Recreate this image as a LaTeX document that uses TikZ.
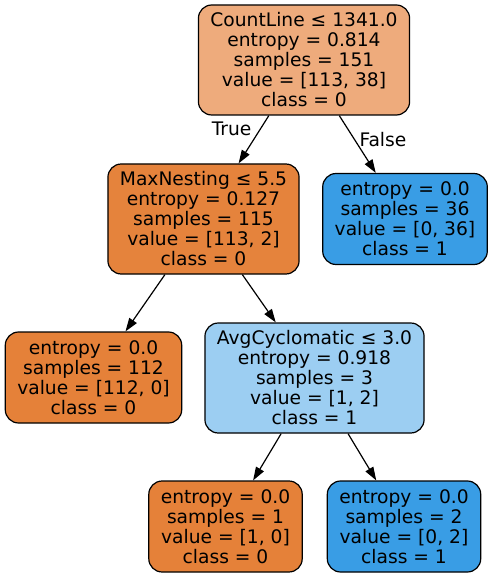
\documentclass[tikz,border=0pt]{standalone}
\usepackage{fontspec}
\setmainfont{DejaVu Sans}
\usetikzlibrary{arrows.meta}

\definecolor{rootorange}{RGB}{238,171,124}
\definecolor{darkorange}{RGB}{229,131,60}
\definecolor{leaforange}{RGB}{229,129,57}
\definecolor{leafblue}{RGB}{57,157,229}
\definecolor{lightblue}{RGB}{156,206,242}

\begin{document}
\begin{tikzpicture}[
    x=0.75pt, y=-0.75pt,
    every node/.style={font=\fontsize{14}{15}\selectfont},
    split/.style={rectangle, draw, line width=0.9pt, rounded corners=10pt, align=center, inner xsep=9pt, inner ysep=0pt, minimum height=82.5pt},
    leaf/.style={split, minimum height=68.25pt},
    arrow/.style={-{Triangle[length=10pt, width=6.7pt]}, line width=0.9pt},
    truefalse/.style={inner sep=0pt}
]
\useasboundingbox (0,0) rectangle (493,577);

% Root split
\node[split, fill=rootorange] (countline) at (304,60) {CountLine ≤ 1341.0\\entropy = 0.814\\samples = 151\\value = [113, 38]\\class = 0};

% Level 1
\node[split, fill=darkorange] (maxnesting) at (203.5,219) {MaxNesting ≤ 5.5\\entropy = 0.127\\samples = 115\\value = [113, 2]\\class = 0};
\node[leaf, fill=leafblue] (leaf36) at (405,219) {entropy = 0.0\\samples = 36\\value = [0, 36]\\class = 1};

\draw[arrow] (countline) -- node[truefalse, pos=0.27, left=6.5pt] {True} (maxnesting);
\draw[arrow] (countline) -- node[truefalse, pos=0.41, right=3.5pt] {False} (leaf36);

% Level 2
\node[leaf, fill=leaforange] (leaf112) at (93.5,377.5) {entropy = 0.0\\samples = 112\\value = [112, 0]\\class = 0};
\node[split, fill=lightblue] (avgcyclo) at (314.5,378) {AvgCyclomatic ≤ 3.0\\entropy = 0.918\\samples = 3\\value = [1, 2]\\class = 1};

\draw[arrow] (maxnesting) -- (leaf112);
\draw[arrow] (maxnesting) -- (avgcyclo);

% Level 3
\node[leaf, fill=leaforange] (leafone) at (225.5,526.5) {entropy = 0.0\\samples = 1\\value = [1, 0]\\class = 0};
\node[leaf, fill=leafblue] (leaftwo) at (404,526.5) {entropy = 0.0\\samples = 2\\value = [0, 2]\\class = 1};

\draw[arrow] (avgcyclo) -- (leafone);
\draw[arrow] (avgcyclo) -- (leaftwo);

\end{tikzpicture}
\end{document}
